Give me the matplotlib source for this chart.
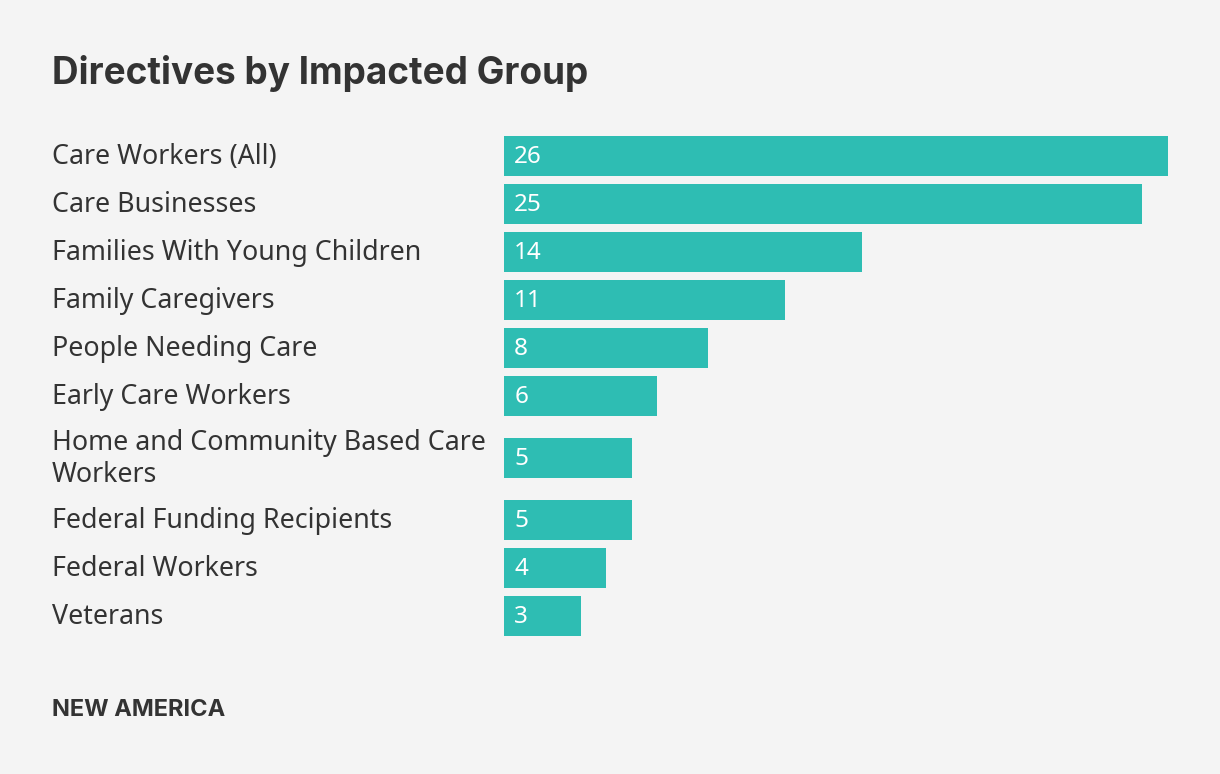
import matplotlib
matplotlib.use("Agg")
import matplotlib.pyplot as plt
import matplotlib.transforms as mtransforms
import numpy as np

plt.rcParams['font.family'] = ['Noto Sans', 'DejaVu Sans']

groupes = ["Care Workers (All)", "Care Businesses", "Families With Young Children",
           "Family Caregivers", "People Needing Care", "Early Care Workers",
           "Home and Community Based Care\nWorkers", "Federal Funding Recipients",
           "Federal Workers", "Veterans"]
valeurs = [26, 25, 14, 11, 8, 6, 5, 5, 4, 3]

fond = "#f4f4f4"
teal = "#2ebdb3"
texte = "#333333"

W, H = 1220, 774
fig = plt.figure(figsize=(W / 100, H / 100), dpi=100, facecolor=fond)

# hauteur de chaque ligne (en px), plus grande pour les etiquettes sur 2 lignes
centres = []
y = 0
for g in groupes:
    demi = 24 + 14 * (g.count("\n"))
    centres.append(y + demi)
    y += 2 * demi
total = y

haut_px = 132
ax = fig.add_axes([504 / W, 1 - (haut_px + total) / H, 664 / W, total / H])
ax.set_facecolor(fond)
ax.barh(centres, valeurs, height=40, color=teal)
ax.set_xlim(0, 26)
ax.set_ylim(total, 0)
ax.axis("off")

trans = mtransforms.blended_transform_factory(fig.transFigure, ax.transData)
for c, g, v in zip(centres, groupes, valeurs):
    ax.text(52 / W, c + 1, g, transform=trans, ha="left", va="center",
            fontsize=19.3, color=texte, linespacing=1.15)
    ax.text(0.4, c + 1, str(v), ha="left", va="center", fontsize=17.5, color="white")

fig.text(52 / W, 1 - 73 / H, "Directives by Impacted Group", ha="left", va="center",
         fontsize=26.6, fontweight="bold", color=texte, family=["Inter", "DejaVu Sans"])
fig.text(52 / W, 1 - 710 / H, "NEW AMERICA", ha="left", va="center",
         fontsize=17, fontweight="bold", color=texte, family=["Inter", "DejaVu Sans"])

fig.savefig("out.png", dpi=100, facecolor=fond)
